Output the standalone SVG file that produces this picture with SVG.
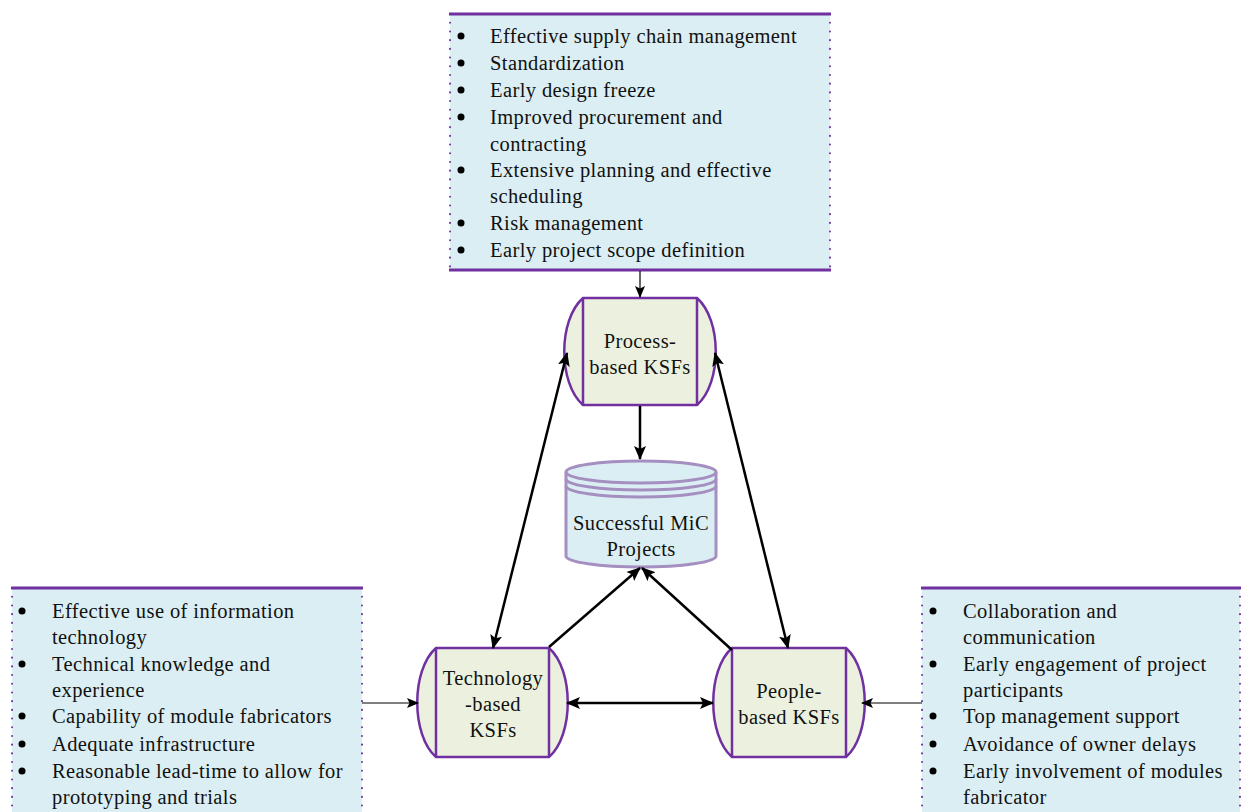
<svg xmlns="http://www.w3.org/2000/svg" width="1241" height="812" viewBox="0 0 1241 812">
<defs>
<marker id="ah" markerUnits="userSpaceOnUse" markerWidth="14" markerHeight="12" refX="13" refY="6" orient="auto-start-reverse"><path d="M0,0 L14,6 L0,12 L3,6 Z" fill="#000"/></marker>
<marker id="ahs" markerUnits="userSpaceOnUse" markerWidth="12" markerHeight="10" refX="11" refY="5" orient="auto-start-reverse"><path d="M0,0 L12,5 L0,10 L2.5,5 Z" fill="#000"/></marker>
</defs>
<style>
text{font-family:"Liberation Serif","Times New Roman","DejaVu Serif",serif;font-size:20.5px;letter-spacing:0.4px;fill:#111}
.c{text-anchor:middle}
.box{fill:#dbeef3;stroke:none}
.solid{stroke:#7030a0;stroke-width:3;fill:none}
.dot{stroke:#7030a0;stroke-width:2;stroke-dasharray:0.1 8.6;stroke-linecap:round;fill:none}
.drum{fill:#ebf1de;stroke:#7030a0;stroke-width:2.5}
.thick{stroke:#000;stroke-width:2.5;fill:none}
.thin{stroke:#000;stroke-width:1.2;fill:none}
.cyl{fill:#dbeef3;stroke:#a58fc0;stroke-width:3}
</style>
<rect width="1241" height="812" fill="#fff"/>
<g id="process-list">
<rect class="box" x="450" y="14" width="380" height="256"/>
<line class="dot" x1="450" y1="14" x2="450" y2="270"/>
<line class="dot" x1="830" y1="14" x2="830" y2="270"/>
<line class="solid" x1="449" y1="14" x2="831" y2="14"/>
<line class="solid" x1="449" y1="270" x2="831" y2="270"/>
<g fill="#000"><circle cx="461" cy="36" r="3.5"/><circle cx="461" cy="63" r="3.5"/><circle cx="461" cy="90" r="3.5"/><circle cx="461" cy="117" r="3.5"/><circle cx="461" cy="170" r="3.5"/><circle cx="461" cy="223" r="3.5"/><circle cx="461" cy="250" r="3.5"/></g>
<text x="490" y="43">Effective supply chain management</text>
<text x="490" y="70">Standardization</text>
<text x="490" y="97">Early design freeze</text>
<text x="490" y="124">Improved procurement and</text>
<text x="490" y="151">contracting</text>
<text x="490" y="177">Extensive planning and effective</text>
<text x="490" y="203">scheduling</text>
<text x="490" y="230">Risk management</text>
<text x="490" y="257">Early project scope definition</text>
</g>

<g id="technology-list">
<rect class="box" x="12" y="588" width="350" height="230"/>
<line class="dot" x1="12" y1="588" x2="12" y2="812"/>
<line class="dot" x1="362" y1="588" x2="362" y2="812"/>
<line class="solid" x1="11" y1="588" x2="363" y2="588"/>
<g fill="#000"><circle cx="22" cy="611" r="3.5"/><circle cx="22" cy="664" r="3.5"/><circle cx="22" cy="716" r="3.5"/><circle cx="22" cy="744" r="3.5"/><circle cx="22" cy="771" r="3.5"/></g>
<text x="52" y="618">Effective use of information</text>
<text x="52" y="644">technology</text>
<text x="52" y="671">Technical knowledge and</text>
<text x="52" y="697">experience</text>
<text x="52" y="723">Capability of module fabricators</text>
<text x="52" y="751">Adequate infrastructure</text>
<text x="52" y="778">Reasonable lead-time to allow for</text>
<text x="52" y="804">prototyping and trials</text>
</g>

<g id="people-list">
<rect class="box" x="922" y="588" width="318" height="230"/>
<line class="dot" x1="922" y1="588" x2="922" y2="812"/>
<line class="dot" x1="1240" y1="588" x2="1240" y2="812"/>
<line class="solid" x1="921" y1="588" x2="1241" y2="588"/>
<g fill="#000"><circle cx="933" cy="611" r="3.5"/><circle cx="933" cy="664" r="3.5"/><circle cx="933" cy="716" r="3.5"/><circle cx="933" cy="744" r="3.5"/><circle cx="933" cy="771" r="3.5"/></g>
<text x="963" y="618">Collaboration and</text>
<text x="963" y="644">communication</text>
<text x="963" y="671">Early engagement of project</text>
<text x="963" y="697">participants</text>
<text x="963" y="723">Top management support</text>
<text x="963" y="751">Avoidance of owner delays</text>
<text x="963" y="778">Early involvement of modules</text>
<text x="963" y="804">fabricator</text>
</g>

<g id="process-node">
<path class="drum" d="M583,298 L697,298 C722,320 722,383 697,405 L583,405 C558,383 558,320 583,298 Z"/>
<line class="drum" x1="583" y1="298" x2="583" y2="405"/>
<line class="drum" x1="697" y1="298" x2="697" y2="405"/>
<text class="c" x="640" y="348">Process-</text>
<text class="c" x="640" y="374">based KSFs</text>
</g>

<g id="technology-node">
<path class="drum" d="M436,648 L549,648 C574,670 574,735 549,757 L436,757 C411,735 411,670 436,648 Z"/>
<line class="drum" x1="436" y1="648" x2="436" y2="757"/>
<line class="drum" x1="549" y1="648" x2="549" y2="757"/>
<text class="c" x="493" y="685">Technology</text>
<text class="c" x="493" y="711">-based</text>
<text class="c" x="493" y="737">KSFs</text>
</g>

<g id="people-node">
<path class="drum" d="M732,648 L846,648 C871,670 871,735 846,757 L732,757 C707,735 707,670 732,648 Z"/>
<line class="drum" x1="732" y1="648" x2="732" y2="757"/>
<line class="drum" x1="846" y1="648" x2="846" y2="757"/>
<text class="c" x="789" y="698">People-</text>
<text class="c" x="789" y="724">based KSFs</text>
</g>

<g id="mic-node">
<path class="cyl" d="M566,472 L566,556 A75,11 0 0 0 716,556 L716,472"/>
<ellipse class="cyl" cx="641" cy="472" rx="75" ry="11"/>
<path class="cyl" d="M566,479 A75,11 0 0 0 716,479" style="fill:none"/>
<path class="cyl" d="M566,486 A75,11 0 0 0 716,486" style="fill:none"/>
<text class="c" x="641" y="530">Successful MiC</text>
<text class="c" x="641" y="556">Projects</text>
</g>
<g id="connectors">
<line class="thin" x1="640" y1="271" x2="640" y2="297" marker-end="url(#ahs)"/>
<line class="thick" x1="640" y1="406" x2="640" y2="459" marker-end="url(#ah)"/>
<line class="thick" x1="567" y1="353" x2="493" y2="648" marker-start="url(#ah)" marker-end="url(#ah)"/>
<line class="thick" x1="715" y1="353" x2="788" y2="648" marker-start="url(#ah)" marker-end="url(#ah)"/>
<line class="thick" x1="549" y1="647" x2="640" y2="568" marker-end="url(#ah)"/>
<line class="thick" x1="732" y1="650" x2="642" y2="568" marker-end="url(#ah)"/>
<line class="thick" x1="567" y1="703" x2="713" y2="703" marker-start="url(#ah)" marker-end="url(#ah)"/>
<line class="thin" x1="362" y1="703" x2="418" y2="703" marker-end="url(#ahs)"/>
<line class="thin" x1="922" y1="703" x2="862" y2="703" marker-end="url(#ahs)"/>
</g>
</svg>
